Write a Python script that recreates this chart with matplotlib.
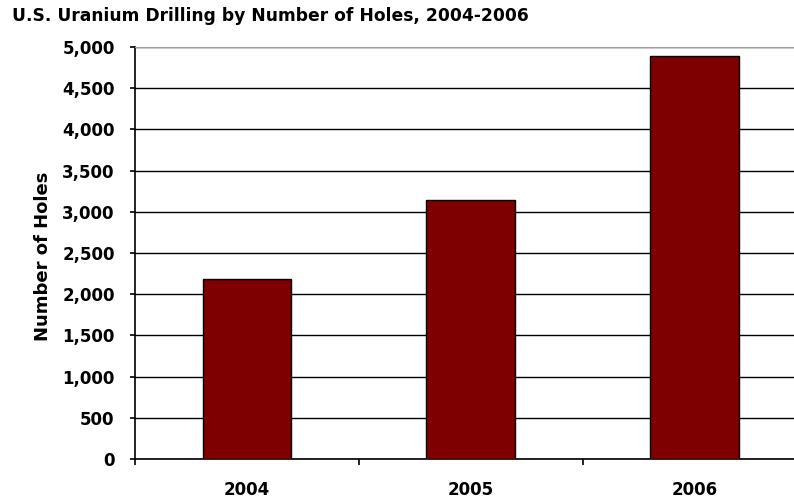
import matplotlib
matplotlib.use("Agg")
import matplotlib.pyplot as plt
from matplotlib.ticker import FuncFormatter, FixedLocator

years = ["2004", "2005", "2006"]
holes = [2185, 3143, 4890]
yticks = list(range(0, 5001, 500))

fig = plt.figure(figsize=(7.94, 5.04), dpi=100)
ax = fig.add_axes([135/794, 1-459/504, 1-135/794, (459-47)/504])

x = list(range(len(years)))
ax.bar(x, holes, width=0.395, color="#7f0000", edgecolor="black", linewidth=1, zorder=3)

ax.set_ylim(0, 5000)
ax.set_xlim(-0.5, 2.445)
ax.set_yticks(yticks)
ax.yaxis.set_major_formatter(FuncFormatter(lambda v, p: f"{int(v):,}"))
ax.grid(axis="y", color="black", linewidth=1, zorder=0)
ax.set_axisbelow(True)

ax.spines["right"].set_visible(False)
ax.spines["top"].set_color("#a0a0a0")
ax.spines["left"].set_linewidth(1.2)
ax.spines["bottom"].set_linewidth(1.2)

ax.set_xticks(x)
ax.set_xticklabels(years)
ax.xaxis.set_minor_locator(FixedLocator([-0.5, 0.5, 1.5, 2.5]))
ax.tick_params(axis="x", which="major", length=0, pad=16)
ax.tick_params(axis="x", which="minor", length=4.3, width=1.2, direction="out")
ax.tick_params(axis="y", length=3.6, width=1.2, direction="out", pad=11)

for lab in ax.get_xticklabels() + ax.get_yticklabels():
    lab.set_fontfamily("DejaVu Sans")
    lab.set_fontweight("bold")
    lab.set_fontsize(12)

fig.text(43/794, 1-256/504, "Number of Holes", rotation=90, ha="center", va="center",
         fontsize=13, fontweight="bold", family="DejaVu Sans")
fig.text(12/794, 1-16/504, "U.S. Uranium Drilling by Number of Holes, 2004-2006",
         ha="left", va="center", fontsize=12.3, fontweight="bold", family="DejaVu Sans")

fig.savefig("out.png", dpi=100)
